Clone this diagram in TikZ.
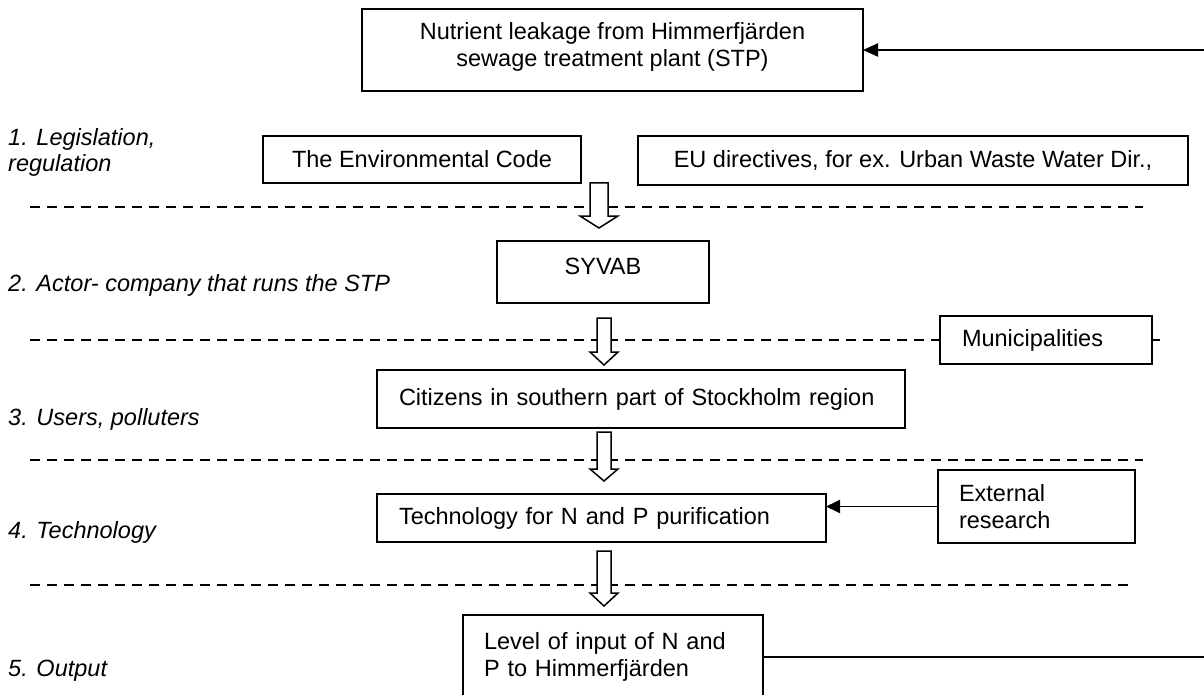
\documentclass[tikz,border=0pt]{standalone}
\usepackage{fontspec}
\setmainfont{Liberation Sans}
\usetikzlibrary{arrows.meta,calc}
\newcommand\fs{\fontsize{23.5pt}{27pt}\selectfont}
% hollow block arrow: #1 top-centre coordinate, #2 head start offset, #3 tip offset, #4 shaft half width, #5 head half width
\newcommand\harrow[5]{\draw[blockarrow] ($(#1)+(-#4,0)$) -- ($(#1)+(#4,0)$) -- ($(#1)+(#4,#2)$) -- ($(#1)+(#5,#2)$) -- ($(#1)+(0,#3)$) -- ($(#1)+(-#5,#2)$) -- ($(#1)+(-#4,#2)$) -- cycle;}
\begin{document}
\begin{tikzpicture}[x=1pt,y=-1pt,
  box/.style={draw, line width=1.6pt, inner sep=0pt, outer sep=0pt, font=\fs, anchor=north west},
  cbox/.style={box, align=center},
  lbox/.style={box, align=left, inner xsep=21pt},
  leg/.style={font=\fs\itshape, anchor=base west, inner sep=0pt},
  divider/.style={line width=1.3pt, dash pattern=on 10pt off 7pt},
  blockarrow/.style={draw, fill=white, line width=1.5pt, line join=miter},
  feed/.style={line width=2.2pt, -{Triangle[length=15pt,width=13pt]}},
  link/.style={line width=1.8pt, -{Triangle[length=14pt,width=13pt]}},
  plain/.style={line width=1.6pt}]
\useasboundingbox (0,0) rectangle (1204,695);

% boxes
\node[cbox, minimum width=501pt, minimum height=82pt, text depth=12pt] (top) at (362,9)
  {Nutrient leakage from Himmerfjärden\\sewage treatment plant (STP)};
\node[cbox, minimum width=318pt, minimum height=47pt] (code) at (263,136) {The Environmental Code};
\node[cbox, minimum width=550pt, minimum height=49pt] (eu) at (638,136) {EU directives, for ex. Urban Waste Water Dir.,};
\node[cbox, minimum width=212pt, minimum height=62pt, text depth=12pt] (syvab) at (497,241) {SYVAB};
\node[lbox, text width=168pt, minimum height=48pt, inner xsep=22pt] (muni) at (940,316) {Municipalities};
\node[lbox, text width=484pt, minimum height=58pt, inner xsep=22pt] (cit) at (377,370) {Citizens in southern part of Stockholm region};
\node[lbox, text width=405pt, minimum height=48pt, inner xsep=22pt] (tech) at (377,494) {Technology for N and P purification};
\node[lbox, text width=155pt, minimum height=73pt] (ext) at (938,470) {External\\research};
\node[lbox, text width=258pt, minimum height=84pt] (level) at (463,615) {Level of input of N and\\P to Himmerfjärden};

% legend
\node[leg] (l1a) at (8,145.5) {1. Legislation,};
\node[leg] (l1b) at (8,171.5) {regulation};
\node[leg] (l2) at (8,291) {2. Actor- company that runs the STP};
\node[leg] (l3) at (8,425.5) {3. Users, polluters};
\node[leg] (l4) at (8,538.5) {4. Technology};
\node[leg] (l5) at (8,676.5) {5. Output};

% dividers
\coordinate (d1l) at (30,207);  \coordinate (d1r) at (1143,207);
\coordinate (d2l) at (30,340);
\coordinate (d3l) at (30,460);  \coordinate (d3r) at (1143,460);
\coordinate (d4l) at (30,585);  \coordinate (d4r) at (1130,585);
\draw[divider] (d1l) -- (d1r);
\draw[divider] (d2l) -- (muni.west);
\draw[divider] (d3l) -- (d3r);
\draw[divider] (d4l) -- (d4r);
\draw[plain] (muni.east) -- ++(8,0);

% hollow arrows
\coordinate (h1) at (599,183);
\coordinate (h2) at (604,318);
\coordinate (h3) at (604,432);
\coordinate (h4) at (604,551);
\harrow{h1}{33}{45}{9}{19}
\harrow{h2}{34}{47}{7}{14}
\harrow{h3}{37}{49}{7}{14}
\harrow{h4}{42}{55}{7}{14}

% connectors
\coordinate (inR) at (1210,50);
\draw[feed] (inR) -- (top.east);
\draw[link] (ext.west) -- (ext.west -| tech.east);
\coordinate (fbR) at (1210,657);
\draw[plain] (level.east) -- (fbR);
\end{tikzpicture}
\end{document}
